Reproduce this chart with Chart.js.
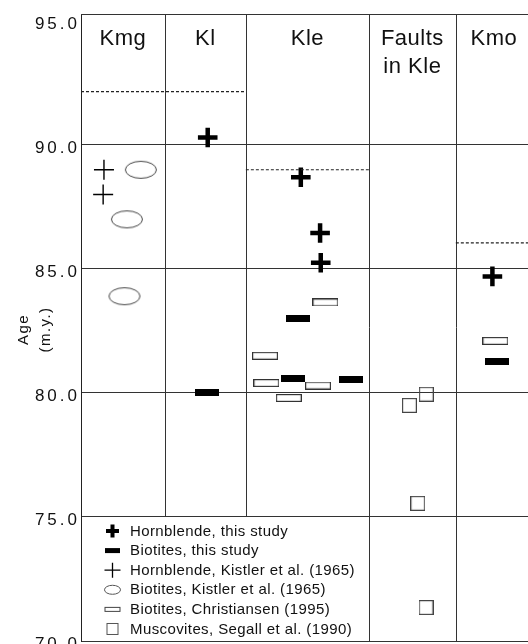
<!DOCTYPE html>
<html>
<head>
<meta charset="utf-8">
<title>Ages</title>
<script src="https://cdn.jsdelivr.net/npm/chart.js@4.4.1/dist/chart.umd.min.js"></script>
<style>
  html, body { margin: 0; padding: 0; background: #fff; }
  #wrap { width: 528px; height: 644px; }
</style>
</head>
<body>
<div id="wrap"><canvas id="ageChart" width="528" height="644"></canvas></div>
<script>
// colonnes (unités x arbitraires)
const columnNames = [['Kmg'], ['Kl'], ['Kle'], ['Faults', 'in Kle'], ['Kmo']];
const columnEdges = [0, 1.02, 2.01, 3.51, 4.57, 5.5];
const ageTicks = [70, 75, 80, 85, 90, 95];
const axisTitle = ['Age', '(m.y.)'];

// séries
const hornblendeThisStudy = [
    { x: 1.545, y: 90.3 },
    { x: 2.68, y: 88.7 },
    { x: 2.915, y: 86.45 },
    { x: 2.923, y: 85.25 },
    { x: 5.016, y: 84.7 }
];
const biotitesThisStudy = [
    { x: 1.54, y: 80.0 },
    { x: 2.65, y: 83.0 },
    { x: 2.58, y: 80.6 },
    { x: 3.29, y: 80.55 },
    { x: 5.073, y: 81.25 }
];
const hornblendeKistler = [
    { x: 0.28, y: 89.0 },
    { x: 0.27, y: 88.0 }
];
const biotitesKistler = [
    { x: 0.73, y: 89.0 },
    { x: 0.56, y: 87.0 },
    { x: 0.53, y: 83.9 }
];
const biotitesChristiansen = [
    { x: 2.98, y: 83.65 },
    { x: 2.244, y: 81.5 },
    { x: 2.26, y: 80.4 },
    { x: 2.89, y: 80.3 },
    { x: 2.533, y: 79.8 },
    { x: 5.052, y: 82.1 }
];
const muscovitesSegall = [
    { x: 4.004, y: 79.5 },
    { x: 4.21, y: 79.95 },
    { x: 4.106, y: 75.55 },
    { x: 4.207, y: 71.35 }
];

// lignes pointillées
const dashedAges = [92.15, 89.0, 86.05];
const dashedFrom = [0, 2.01, 4.57];
const dashedTo = [2.01, 3.51, 5.5];

const legendLabels = [
    'Hornblende, this study',
    'Biotites, this study',
    'Hornblende, Kistler et al. (1965)',
    'Biotites, Kistler et al. (1965)',
    'Biotites, Christiansen (1995)',
    'Muscovites, Segall et al. (1990)'
];

const FONT = "'Liberation Sans', Arial, Helvetica, sans-serif";

function makeMarker(w, h, draw) {
    const c = document.createElement('canvas');
    c.width = w;
    c.height = h;
    draw(c.getContext('2d'));
    return c;
}

const ellipseMark = makeMarker(34, 20, g => {
    g.strokeStyle = '#444';
    g.lineWidth = 1;
    g.beginPath();
    g.ellipse(17, 10, 15.5, 8.5, 0, 0, 2 * Math.PI);
    g.stroke();
});
const openBarMark = makeMarker(26, 8, g => {
    g.strokeStyle = '#333';
    g.lineWidth = 1.2;
    g.strokeRect(0.6, 0.6, 24.8, 6.8);
});
const solidBarMark = makeMarker(24, 7, g => {
    g.fillStyle = '#000';
    g.fillRect(0, 0, 24, 7);
});
const squareMark = makeMarker(15, 15, g => {
    g.strokeStyle = '#444';
    g.lineWidth = 1.2;
    g.strokeRect(0.6, 0.6, 13.8, 13.8);
});

const dashedSets = dashedAges.map((age, i) => ({
    type: 'line',
    data: [{ x: dashedFrom[i], y: age }, { x: dashedTo[i], y: age }],
    borderColor: '#222',
    borderWidth: 1.2,
    borderDash: [3, 2],
    pointRadius: 0,
    fill: false
}));

function pointSet(data, style, extra) {
    return Object.assign({
        type: 'scatter',
        data: data,
        pointStyle: style,
        pointRadius: 5,
        pointBorderColor: '#000',
        pointBackgroundColor: '#000'
    }, extra || {});
}

// légende dessinée dans le coin bas-gauche
function drawLegendSymbol(ctx, i, sx, cy) {
    ctx.save();
    ctx.strokeStyle = '#000';
    ctx.fillStyle = '#000';
    ctx.beginPath();
    if (i === 0) {
        ctx.lineWidth = 4;
        ctx.moveTo(sx - 6.5, cy); ctx.lineTo(sx + 6.5, cy);
        ctx.moveTo(sx, cy - 6.5); ctx.lineTo(sx, cy + 6.5);
        ctx.stroke();
    } else if (i === 1) {
        ctx.fillRect(sx - 7.5, cy - 2.5, 15, 5);
    } else if (i === 2) {
        ctx.lineWidth = 1.3;
        ctx.moveTo(sx - 8, cy); ctx.lineTo(sx + 8, cy);
        ctx.moveTo(sx, cy - 7.5); ctx.lineTo(sx, cy + 7.5);
        ctx.stroke();
    } else if (i === 3) {
        ctx.strokeStyle = '#555';
        ctx.lineWidth = 1;
        ctx.ellipse(sx, cy, 8, 4.5, 0, 0, 2 * Math.PI);
        ctx.stroke();
    } else if (i === 4) {
        ctx.strokeStyle = '#444';
        ctx.lineWidth = 1;
        ctx.strokeRect(sx - 7.5, cy - 2, 15, 4);
    } else {
        ctx.strokeStyle = '#555';
        ctx.lineWidth = 1;
        ctx.strokeRect(sx - 5.5, cy - 5.5, 11, 11);
    }
    ctx.restore();
}

const figureDecor = {
    id: 'figureDecor',
    beforeDraw(chart) {
        chart.ctx.letterSpacing = '3px';
    },
    beforeDatasetsDraw(chart) {
        const ctx = chart.ctx;
        const area = chart.chartArea;
        const xs = chart.scales.x;
        const ys = chart.scales.y;
        ctx.letterSpacing = '0px';
        ctx.save();
        ctx.strokeStyle = '#333';
        ctx.lineWidth = 1;
        const y75 = ys.getPixelForValue(75);
        for (let i = 1; i < columnEdges.length - 1; i++) {
            const px = Math.round(xs.getPixelForValue(columnEdges[i])) + 0.5;
            const bottom = i < 3 ? y75 : area.bottom;
            ctx.beginPath();
            ctx.moveTo(px, area.top);
            ctx.lineTo(px, bottom);
            ctx.stroke();
        }
        ctx.beginPath();
        ctx.moveTo(area.left, Math.round(area.top) + 0.5);
        ctx.lineTo(area.right, Math.round(area.top) + 0.5);
        ctx.stroke();
        ctx.restore();
    },
    afterDraw(chart) {
        const ctx = chart.ctx;
        const area = chart.chartArea;
        const xs = chart.scales.x;
        const ys = chart.scales.y;
        ctx.save();
        ctx.fillStyle = '#111';

        // en-têtes de colonnes
        ctx.font = '22px ' + FONT;
        ctx.letterSpacing = '0.5px';
        ctx.textAlign = 'center';
        ctx.textBaseline = 'alphabetic';
        columnNames.forEach((lines, i) => {
            const cx = xs.getPixelForValue((columnEdges[i] + columnEdges[i + 1]) / 2);
            lines.forEach((t, j) => ctx.fillText(t, cx, 45 + j * 27.7));
        });

        // titre de l'axe
        ctx.save();
        ctx.font = '15px ' + FONT;
        ctx.letterSpacing = '1.5px';
        ctx.textBaseline = 'middle';
        ctx.translate(0, (area.top + area.bottom) / 2 + 2);
        ctx.rotate(-Math.PI / 2);
        axisTitle.forEach((t, j) => ctx.fillText(t, 0, 23.5 + j * 22));
        ctx.restore();

        // légende
        const top = ys.getPixelForValue(75);
        const sx = area.left + 31.5;
        ctx.font = '15px ' + FONT;
        ctx.letterSpacing = '0.4px';
        ctx.textAlign = 'left';
        ctx.textBaseline = 'middle';
        legendLabels.forEach((label, i) => {
            const cy = top + 14 + i * 19.6;
            drawLegendSymbol(ctx, i, sx, cy);
            ctx.fillStyle = '#111';
            ctx.fillText(label, area.left + 49, cy + 0.5);
        });
        ctx.restore();
    }
};

const ctx = document.getElementById('ageChart');
new Chart(ctx, {
    data: {
        datasets: [
            ...dashedSets,
            pointSet(hornblendeThisStudy, 'cross', { pointRadius: 9.8, pointBorderWidth: 4.5 }),
            pointSet(biotitesThisStudy, solidBarMark),
            pointSet(hornblendeKistler, 'cross', { pointRadius: 10, pointBorderWidth: 1.4 }),
            pointSet(biotitesKistler, ellipseMark),
            pointSet(biotitesChristiansen, openBarMark),
            pointSet(muscovitesSegall, squareMark)
        ]
    },
    options: {
        responsive: false,
        animation: false,
        layout: { autoPadding: false, padding: { top: 14, right: 0, bottom: 3, left: 0 } },
        plugins: {
            legend: { display: false },
            tooltip: { enabled: false }
        },
        scales: {
            x: {
                type: 'linear',
                display: false,
                min: 0,
                max: 5.45
            },
            y: {
                type: 'linear',
                min: 70,
                max: 95.28,
                afterBuildTicks: function(scale) {
                    scale.ticks = ageTicks.map(v => ({ value: v }));
                },
                afterFit: function(scale) {
                    scale.width = 81;
                    scale.paddingTop = 0;
                    scale.paddingBottom = 0;
                },
                grid: {
                    drawTicks: false,
                    color: c => (c.tick && c.tick.value === 95 ? 'rgba(0,0,0,0)' : '#333'),
                    lineWidth: 1
                },
                border: { display: true, color: '#222', width: 1 },
                ticks: {
                    padding: 1,
                    labelOffset: 3.5,
                    color: '#111',
                    font: { family: FONT, size: 17 },
                    callback: v => Number(v).toFixed(1)
                }
            }
        }
    },
    plugins: [figureDecor]
});
</script>
</body>
</html>
